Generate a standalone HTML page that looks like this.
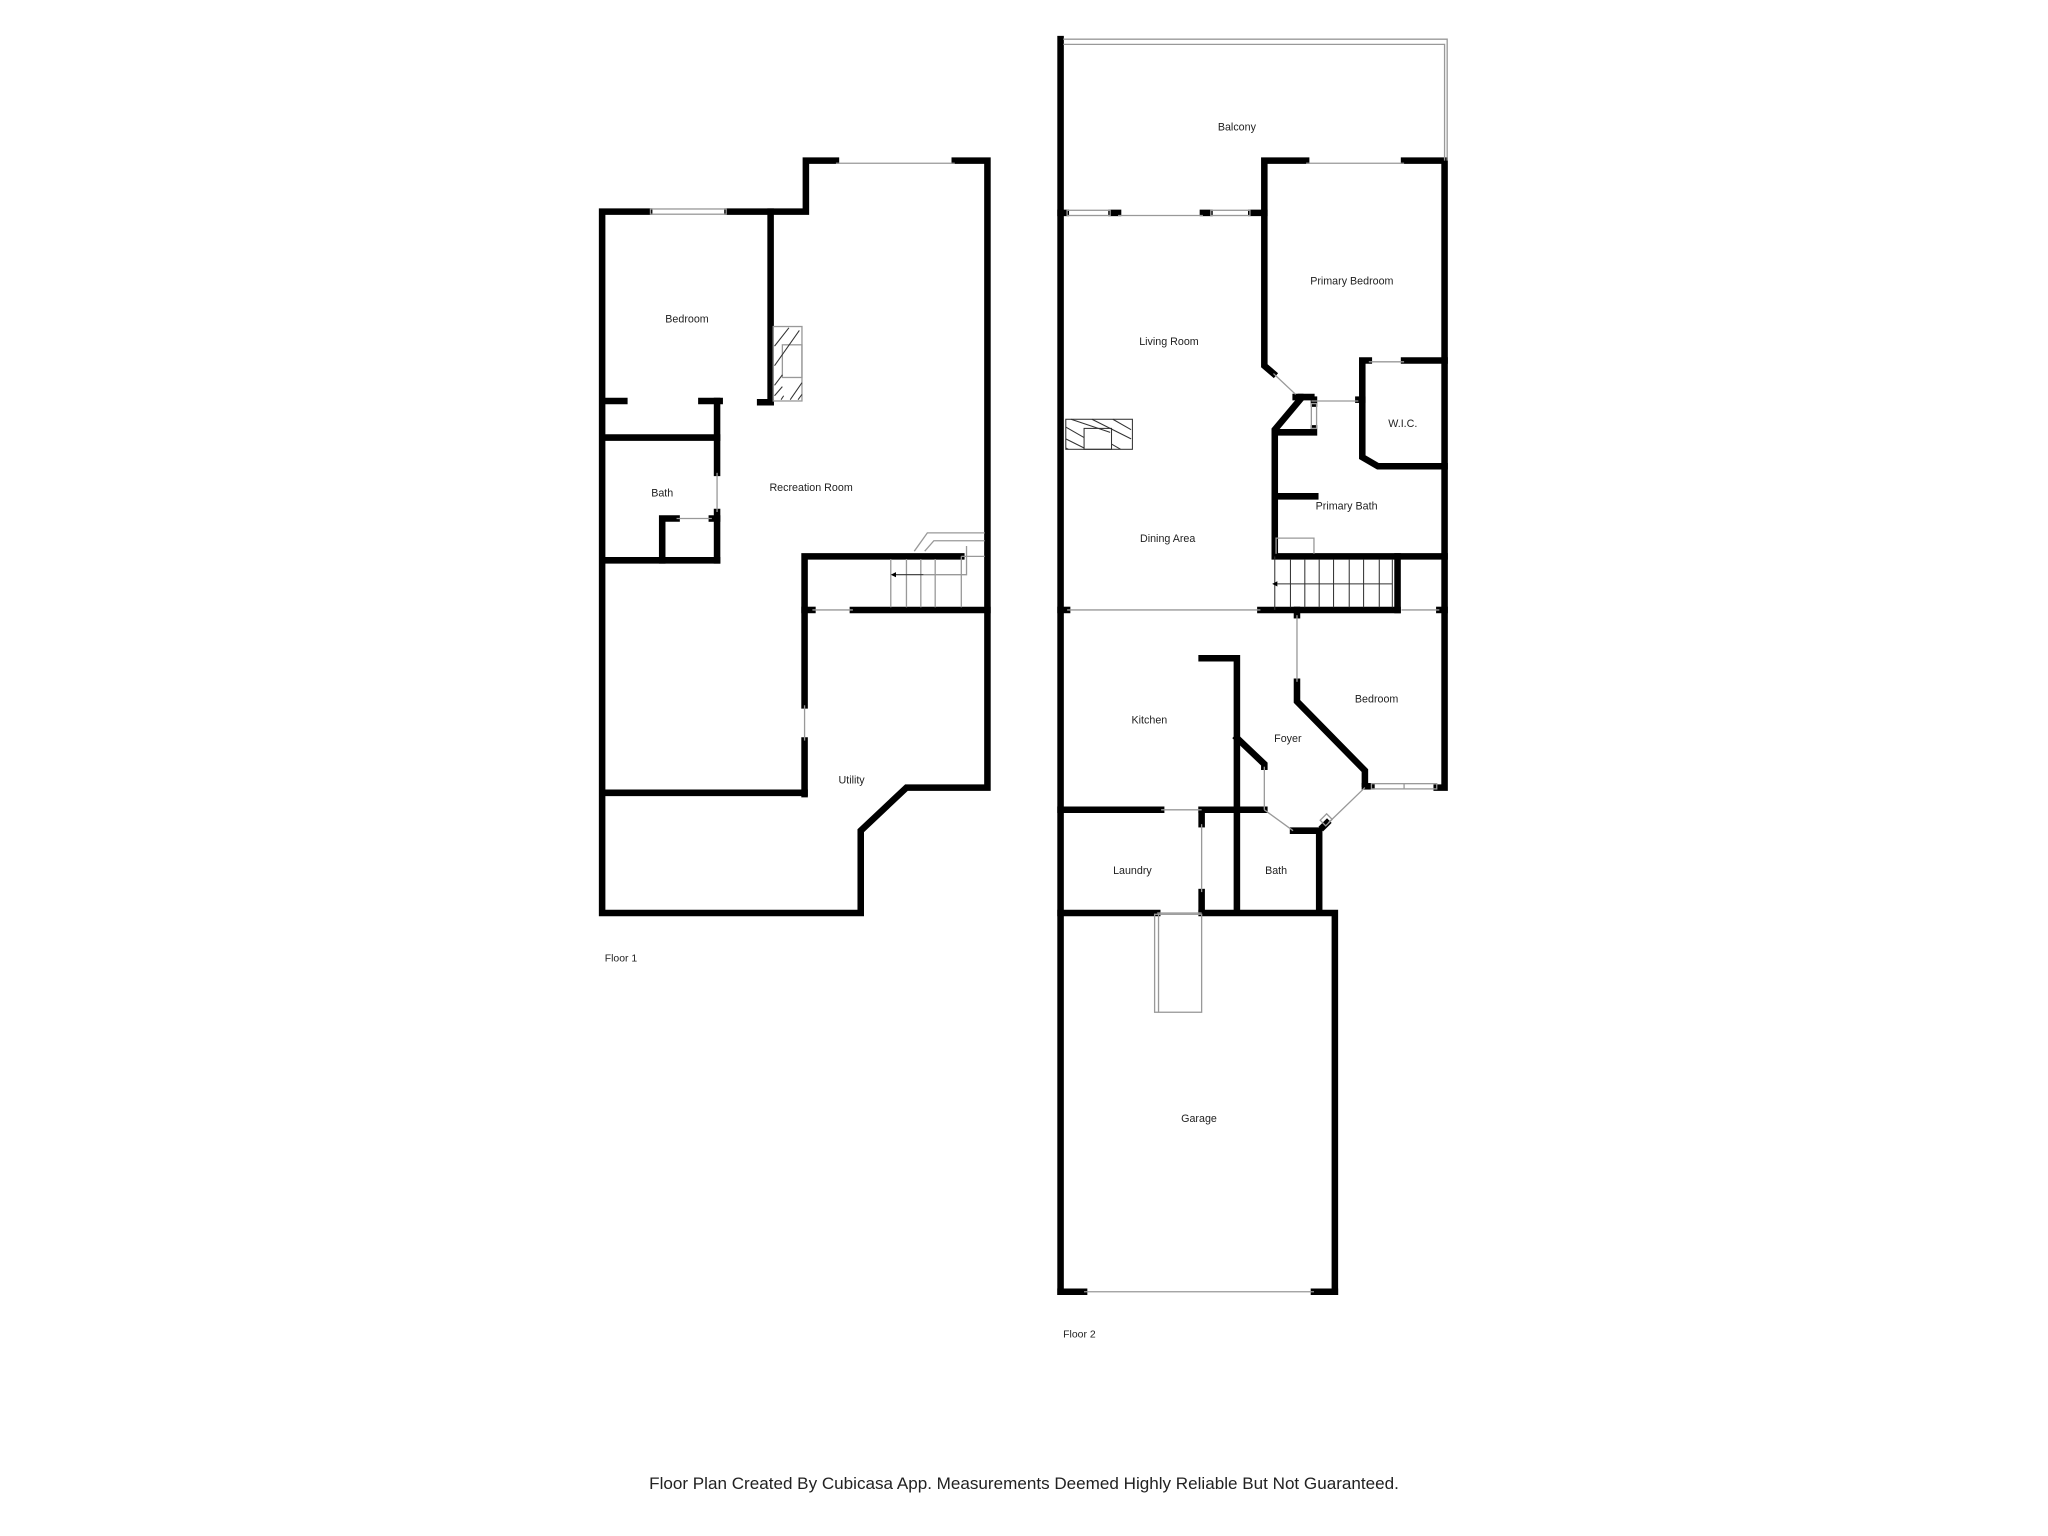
<!DOCTYPE html>
<html><head><meta charset="utf-8"><style>
html,body{margin:0;padding:0;background:#fff;}
svg{display:block}
text{font-family:"Liberation Sans","DejaVu Sans",sans-serif;fill:#222}
</style></head><body>
<svg width="2048" height="1536" viewBox="0 0 1568 1176" xmlns="http://www.w3.org/2000/svg">
<rect width="1568" height="1176" fill="#fff"/>
<g fill="none" stroke="#000" stroke-width="5" stroke-linecap="square" stroke-linejoin="miter">
<!-- FLOOR 1 -->
<polyline points="497,162 461,162 461,699 659,699 659,636 694,603 756,603 756,123 731,123"/>
<polyline points="557,162 617,162 617,123 640,123"/>
<line x1="590" y1="162" x2="590" y2="308"/>
<line x1="463" y1="307" x2="478" y2="307"/>
<line x1="537" y1="307" x2="551" y2="307"/>
<line x1="582" y1="308" x2="590" y2="308"/>
<line x1="549" y1="307" x2="549" y2="362"/>
<line x1="549" y1="392" x2="549" y2="429"/>
<line x1="463" y1="335" x2="549" y2="335"/>
<line x1="463" y1="429" x2="549" y2="429"/>
<polyline points="507,429 507,397 518,397"/>
<line x1="545" y1="397" x2="549" y2="397"/>
<polyline points="616,608 616,567"/>
<polyline points="616,540 616,426 736,426"/>
<line x1="616" y1="467" x2="622" y2="467"/>
<line x1="653" y1="467" x2="756" y2="467"/>
<line x1="463" y1="607" x2="616" y2="607"/>
<!-- FLOOR 2 -->
<line x1="812" y1="30" x2="812" y2="989"/>
<line x1="812" y1="989" x2="830" y2="989"/>
<line x1="1006" y1="989" x2="1022" y2="989"/>
<polyline points="1022,989 1022,699 920,699"/>
<line x1="812" y1="699" x2="886" y2="699"/>
<polyline points="958,163 968,163 968,123 1000,123"/>
<polyline points="1075,123 1106,123 1106,603 1100,603"/>
<line x1="812" y1="163" x2="816" y2="163"/>
<line x1="851" y1="163" x2="856" y2="163"/>
<line x1="921" y1="163" x2="926" y2="163"/>
<polyline points="968,163 968,280 975,286"/>
<polyline points="992,304 998,304 997,304 976,329 976,426 1106,426"/>
<line x1="996" y1="304" x2="1004" y2="304"/>
<polyline points="1006,306 1006,309"/>
<polyline points="1006,328 1006,331 976,331"/>
<line x1="1040" y1="306" x2="1043" y2="306"/>
<polyline points="1048,276 1043,276 1043,350 1055,357 1106,357"/>
<line x1="1075" y1="276" x2="1106" y2="276"/>
<line x1="976" y1="380" x2="1007" y2="380"/>
<line x1="1070" y1="426" x2="1070" y2="467"/>
<line x1="965" y1="467" x2="1070" y2="467"/>
<line x1="1102" y1="467" x2="1106" y2="467"/>
<line x1="812" y1="467" x2="817" y2="467"/>
<polyline points="993,467 993,471"/>
<polyline points="993,522 993,537 1045,590 1045,600"/>
<line x1="1045" y1="602" x2="1050" y2="602"/>
<polyline points="920,504 947,504 947,697"/>
<polyline points="947,565 968,585 968,587"/>
<line x1="812" y1="620" x2="889" y2="620"/>
<polyline points="920,620 968,620"/>
<line x1="920" y1="620" x2="920" y2="631"/>
<line x1="920" y1="683" x2="920" y2="697"/>
<polyline points="990,636 1010,636 1010,697"/>
<line x1="1013" y1="633" x2="1016" y2="630"/>
</g>
<!-- thin details -->
<g fill="none" stroke="#999" stroke-width="1">
<rect x="498" y="160" width="58" height="4"/>
<line x1="640" y1="125" x2="731" y2="125"/>
<line x1="549" y1="362" x2="549" y2="392"/>
<line x1="518" y1="397" x2="545" y2="397"/>
<line x1="616" y1="540" x2="616" y2="567"/>
<line x1="622" y1="467" x2="653" y2="467"/>
<polyline points="700,422 710,408 754,408"/>
<polyline points="708,422 715,414 754,414"/>
<polyline points="740,418 740,440 707,440"/>
<line x1="682" y1="428" x2="682" y2="465"/>
<line x1="694" y1="428" x2="694" y2="465"/>
<line x1="705" y1="428" x2="705" y2="465"/>
<line x1="716" y1="428" x2="716" y2="465"/>
<line x1="736" y1="426" x2="736" y2="465"/>
<line x1="736" y1="426" x2="754" y2="426"/>
<!-- fireplace f1 -->
<rect x="592" y="250" width="22" height="57"/>
<rect x="599" y="264" width="15" height="25"/>
<!-- floor 2 -->
<polyline points="814,30 1108,30 1108,123"/>
<polyline points="814,34 1106,34 1106,123"/>
<rect x="817" y="161" width="33" height="4"/>
<rect x="927" y="161" width="30" height="4"/>
<line x1="856" y1="165" x2="921" y2="165"/>
<line x1="1000" y1="125" x2="1075" y2="125"/>
<line x1="975" y1="286" x2="992" y2="302"/>
<line x1="1004" y1="307" x2="1040" y2="307"/>
<line x1="1048" y1="277" x2="1075" y2="277"/>
<rect x="1004" y="309" width="4" height="19"/>
<polyline points="977,424 977,412 1006,412 1006,424"/>
<line x1="817" y1="467" x2="965" y2="467"/>
<line x1="1073" y1="467" x2="1102" y2="467"/>
<line x1="993" y1="471" x2="993" y2="522"/>
<rect x="1050" y="600" width="50" height="4"/>
<line x1="1075" y1="600" x2="1075" y2="604"/>
<line x1="968" y1="587" x2="968" y2="620"/>
<line x1="968" y1="620" x2="990" y2="636"/>
<line x1="889" y1="620" x2="920" y2="620"/>
<line x1="920" y1="631" x2="920" y2="683"/>
<line x1="1017" y1="630" x2="1045" y2="603"/>
<rect x="1012" y="625" width="7" height="6" transform="rotate(-45 1015 628)"/>
<line x1="886" y1="699" x2="920" y2="699"/>
<rect x="884" y="700" width="36" height="75"/>
<line x1="887" y1="700" x2="887" y2="775"/>
<line x1="830" y1="989" x2="1006" y2="989"/>
</g>
<g stroke="#333" stroke-width="0.8" fill="none">
<!-- f2 stairs -->
<line x1="976" y1="467" x2="976" y2="426"/>
<line x1="988" y1="428" x2="988" y2="465"/><line x1="999" y1="428" x2="999" y2="465"/>
<line x1="1010" y1="428" x2="1010" y2="465"/><line x1="1021" y1="428" x2="1021" y2="465"/>
<line x1="1033" y1="428" x2="1033" y2="465"/><line x1="1044" y1="428" x2="1044" y2="465"/>
<line x1="1056" y1="428" x2="1056" y2="465"/><line x1="1066" y1="428" x2="1066" y2="465"/>
<line x1="978" y1="447" x2="1066" y2="447"/>
<line x1="684" y1="440" x2="707" y2="440"/>
<!-- hatching f1 -->
<path d="M593,265 L604,251 M593,280 L612,253 M593,295 L599,287 M598,306 L600,303 M605,306 L614,293 M611,306 L614,302 M593,303 L599,296"/>
<!-- f2 fireplace -->
<rect x="816" y="321" width="51" height="23"/>
<rect x="830" y="328" width="21" height="16"/>
<path d="M816,327 L830,335 M816,336 L830,343 M820,321 L850,331 M836,321 L866,336 M852,321 L866,329 M851,340 L858,344 M816,343 L818,344"/>
</g>
<polygon points="974,447 978,445 978,449" fill="#000"/>
<polygon points="682,440 686,438 686,442" fill="#000"/>
<g font-size="8.2" text-anchor="middle">
<text x="526" y="247">Bedroom</text>
<text x="507" y="380">Bath</text>
<text x="621" y="376">Recreation Room</text>
<text x="652" y="600">Utility</text>
<text x="947" y="100">Balcony</text>
<text x="1035" y="218">Primary Bedroom</text>
<text x="895" y="264">Living Room</text>
<text x="1074" y="327">W.I.C.</text>
<text x="1031" y="390">Primary Bath</text>
<text x="894" y="415">Dining Area</text>
<text x="1054" y="538">Bedroom</text>
<text x="880" y="554">Kitchen</text>
<text x="986" y="568">Foyer</text>
<text x="867" y="669">Laundry</text>
<text x="977" y="669">Bath</text>
<text x="918" y="859">Garage</text>
</g>
<text x="463" y="736" font-size="8">Floor 1</text>
<text x="814" y="1024" font-size="8">Floor 2</text>
<text x="497" y="1140" font-size="13" textLength="574" lengthAdjust="spacingAndGlyphs">Floor Plan Created By Cubicasa App. Measurements Deemed Highly Reliable But Not Guaranteed.</text>
</svg>
</body></html>
